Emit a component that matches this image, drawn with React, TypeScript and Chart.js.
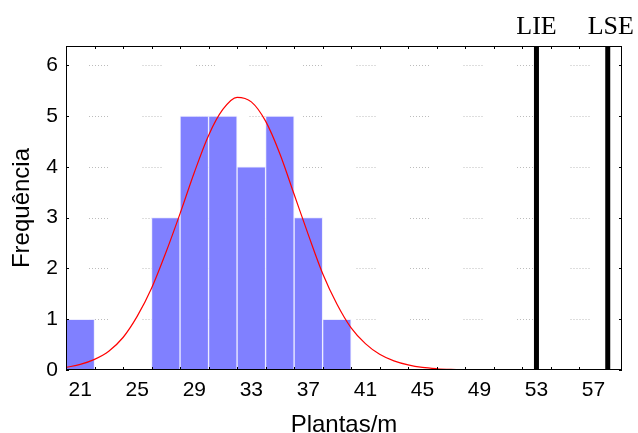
import React, { useEffect, useRef } from "react";
import { Chart, registerables } from "chart.js";

Chart.register(...registerables);

// ---- data ----
const BIN_CENTERS = [21, 23, 25, 27, 29, 31, 33, 35, 37, 39];
const FREQUENCIES = [1, 0, 0, 3, 5, 5, 4, 5, 3, 1];

const CURVE_X = [20, 21, 22, 23, 24, 25, 26, 27, 28, 29, 30, 31, 32, 33, 34, 35, 36, 37, 38, 39, 40, 41, 42, 43, 44, 45, 46, 47, 48, 50, 59];
const CURVE_Y = [0.05, 0.11, 0.21, 0.37, 0.64, 1.06, 1.61, 2.31, 3.08, 3.89, 4.62, 5.13, 5.37, 5.28, 4.9, 4.26, 3.46, 2.66, 1.9, 1.3, 0.83, 0.52, 0.31, 0.18, 0.1, 0.05, 0.025, 0.012, 0.006, 0, 0];

const LIMIT_LABELS = ["LIE", "LSE"];
const LIMIT_VALUES = [53, 58];

const X_TICKS = [21, 25, 29, 33, 37, 41, 45, 49, 53, 57];
const X_TICK_MARKS = [22, 24, 26, 28, 30, 32, 34, 36, 38, 40, 42, 44, 46, 48, 50, 52, 54, 56];
const Y_TICKS = [0, 1, 2, 3, 4, 5, 6];

const X_MIN = 20;
const X_MAX = 59;
const Y_MIN = 0;
const Y_MAX = 6.38;

const X_TITLE = "Plantas/m";
const Y_TITLE = "Frequência";

const SANS = "'Liberation Sans', Arial, sans-serif";
const SERIF = "'Liberation Serif', 'Times New Roman', serif";

export default function App() {
  const ref = useRef<HTMLCanvasElement>(null);

  useEffect(() => {
    const canvas = ref.current;
    if (!canvas) return;

    const framePlugin = {
      id: "framePlugin",
      beforeDatasetsDraw(chart: any) {
        const { ctx, chartArea } = chart;
        const ys = chart.scales.y;
        ctx.save();
        ctx.strokeStyle = "#bcbcbc";
        ctx.lineWidth = 1;
        ctx.setLineDash([1, 2, 1, 2, 1, 2, 1, 2, 1, 2, 1, 2, 1, 34.5]);
        ctx.lineDashOffset = 30.5;
        Y_TICKS.forEach((v) => {
          if (v === Y_MIN) return;
          const y = Math.round(ys.getPixelForValue(v)) + 0.5;
          ctx.beginPath();
          ctx.moveTo(chartArea.left, y);
          ctx.lineTo(chartArea.right, y);
          ctx.stroke();
        });
        ctx.restore();
      },
      afterDatasetsDraw(chart: any) {
        const { ctx, chartArea } = chart;
        const xs = chart.scales.x;
        const ys = chart.scales.y;
        const { left, right, top, bottom } = chartArea;
        ctx.save();
        ctx.strokeStyle = "#000";
        ctx.lineWidth = 1;
        ctx.setLineDash([]);
        ctx.strokeRect(left + 0.5, top + 0.5, right - left - 1, bottom - top - 1);
        ctx.beginPath();
        X_TICK_MARKS.forEach((v) => {
          const x = Math.round(xs.getPixelForValue(v)) + 0.5;
          ctx.moveTo(x, top);
          ctx.lineTo(x, top + 3);
          ctx.moveTo(x, bottom);
          ctx.lineTo(x, bottom - 3);
        });
        Y_TICKS.forEach((v) => {
          const y = Math.round(ys.getPixelForValue(v)) + 0.5;
          ctx.moveTo(left, y);
          ctx.lineTo(left + 3, y);
          ctx.moveTo(right, y);
          ctx.lineTo(right - 3, y);
        });
        ctx.stroke();

        ctx.fillStyle = "#000";
        ctx.font = `26px ${SERIF}`;
        ctx.textAlign = "center";
        ctx.textBaseline = "alphabetic";
        LIMIT_VALUES.forEach((v, i) => {
          const x = xs.getPixelForValue(v);
          ctx.fillText(LIMIT_LABELS[i], x + (i === 1 ? 3 : 0), 34);
        });
        ctx.restore();
      },
    };

    const chart = new Chart(canvas, {
      type: "bar",
      data: {
        datasets: [
          {
            type: "line",
            label: "Normal",
            data: CURVE_X.map((x, i) => ({ x, y: CURVE_Y[i] })),
            borderColor: "#ff0000",
            borderWidth: 1.2,
            pointRadius: 0,
            cubicInterpolationMode: "monotone",
            fill: false,
            order: 0,
          } as any,
          ...LIMIT_VALUES.map((v, i) => ({
            type: "line",
            label: LIMIT_LABELS[i],
            data: [
              { x: v, y: Y_MIN },
              { x: v, y: Y_MAX },
            ],
            borderColor: "#000",
            borderWidth: 5,
            pointRadius: 0,
            fill: false,
            order: 1,
          })) as any[],
          {
            type: "bar",
            label: "Frequência",
            data: BIN_CENTERS.map((x, i) => ({ x, y: FREQUENCIES[i] === 0 ? null : FREQUENCIES[i] })),
            backgroundColor: "#8080ff",
            borderColor: "rgba(235,235,255,0.95)",
            borderWidth: 1,
            borderSkipped: "start",
            barPercentage: 1,
            categoryPercentage: 1,
            order: 2,
          } as any,
        ],
      },
      options: {
        responsive: false,
        maintainAspectRatio: false,
        devicePixelRatio: 1,
        animation: false,
        events: [],
        layout: { padding: { top: 46, right: 16, left: 0, bottom: 0 } },
        plugins: {
          legend: { display: false },
          tooltip: { enabled: false },
        },
        scales: {
          x: {
            type: "linear",
            min: X_MIN,
            max: X_MAX,
            offset: false,
            afterBuildTicks: (scale: any) => {
              scale.ticks = X_TICKS.map((value) => ({ value }));
            },
            afterFit: (scale: any) => {
              scale.height = 63;
            },
            grid: { display: false, drawTicks: false },
            border: { display: false },
            ticks: {
              autoSkip: false,
              maxRotation: 0,
              padding: 8,
              color: "#000",
              font: { family: SANS, size: 21 },
            },
            title: {
              display: true,
              text: X_TITLE,
              color: "#000",
              font: { family: SANS, size: 24 },
              padding: { top: 0, bottom: -7 },
            },
          },
          y: {
            type: "linear",
            min: Y_MIN,
            max: Y_MAX,
            afterBuildTicks: (scale: any) => {
              scale.ticks = Y_TICKS.map((value) => ({ value }));
            },
            afterFit: (scale: any) => {
              scale.width = 66;
            },
            grid: { display: false, drawTicks: false },
            border: { display: false },
            ticks: {
              padding: 8,
              color: "#000",
              font: { family: SANS, size: 21 },
            },
            title: {
              display: true,
              text: Y_TITLE,
              color: "#000",
              font: { family: SANS, size: 24 },
              padding: { top: 8, bottom: 0 },
            },
          },
        },
      },
      plugins: [framePlugin],
    } as any);

    return () => chart.destroy();
  }, []);

  return (
    <div style={{ position: "absolute", left: 0, top: 0, width: 638, height: 433 }}>
      <canvas ref={ref} width={638} height={433} style={{ display: "block", width: 638, height: 433 }} />
    </div>
  );
}
